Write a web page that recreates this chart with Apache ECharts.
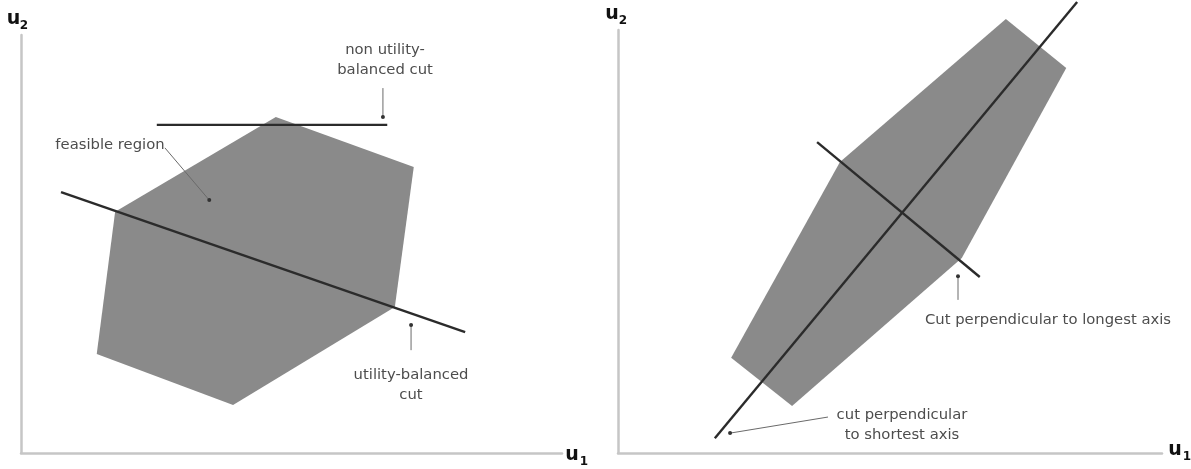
<!DOCTYPE html>
<html>
<head>
<meta charset="utf-8">
<script src="https://cdn.jsdelivr.net/npm/echarts@6/dist/echarts.min.js"></script>
<style>
html,body{margin:0;padding:0;background:#fff;}
#chart{width:1191px;height:469px;}
</style>
</head>
<body>
<div id="chart"></div>
<script>
// ---- Left panel data (u1, u2 in 0..10 axis units) ----
const leftPolygon = [[4.71,8.04],[7.26,6.84],[6.91,3.49],[3.92,1.15],[1.40,2.37],[1.74,5.77]];
const leftBalancedCut = [[0.74,6.24],[8.21,2.89]];
const leftNonBalancedCut = [[2.51,7.85],[6.77,7.85]];
const leftFeasiblePointer = [[2.66,7.30],[3.48,6.05]];
const leftNonBalancedPointer = [[6.69,8.73],[6.69,8.04]];
const leftBalancedPointer = [[7.21,2.46],[7.21,3.06]];

// ---- Right panel data ----
const rightPolygon = [[7.13,10.26],[8.24,9.10],[6.32,4.61],[3.20,1.11],[2.08,2.25],[4.08,6.88]];
const rightLongAxisCut = [[1.78,0.35],[8.44,10.66]];
const rightShortAxisCut = [[3.66,7.35],[6.65,4.16]];
const rightLongestPointer = [[6.25,3.62],[6.25,4.18]];
const rightShortestPointer = [[3.86,0.85],[2.06,0.47]];

// ---- Text ----
const axisName = 'u';
const leftTexts = ['non utility-\nbalanced cut', 'feasible region', 'utility-balanced\ncut'];
const rightTexts = ['Cut perpendicular to longest axis', 'cut perpendicular\nto shortest axis'];

const chart = echarts.init(document.getElementById('chart'), null, {renderer:'canvas'});

const AXIS_COLOR = '#c6c6c6';
const FILL = '#8a8a8a';
const CUT = '#2b2b2b';
const PTR = '#6a6a6a';
const TXT = '#4d4d4d';
const FONT = 'DejaVu Sans';

function axisCfg(idx){
  return {
    type:'value', min:0, max:10, gridIndex:idx,
    axisLine:{show:true, onZero:false, lineStyle:{color:AXIS_COLOR, width:2.5}},
    axisTick:{show:false}, axisLabel:{show:false}, splitLine:{show:false}
  };
}

function polygonSeries(idx, pts){
  return {
    type:'custom', xAxisIndex:idx, yAxisIndex:idx, clip:false, silent:true,
    data: pts,
    renderItem: function(params, api){
      if (params.dataIndex !== 0) return null;
      return {
        type:'polygon',
        shape:{points: pts.map(p => api.coord(p))},
        style:{fill:FILL, stroke:'none'}
      };
    },
    z:1
  };
}
function cutSeries(idx, pts){
  return {
    type:'line', xAxisIndex:idx, yAxisIndex:idx, clip:false, silent:true,
    data: pts, symbol:'none',
    lineStyle:{color:CUT, width:2.4}, z:3
  };
}
function pointerSeries(idx, pts){
  return {
    type:'line', xAxisIndex:idx, yAxisIndex:idx, clip:false, silent:true,
    showSymbol:true, showAllSymbol:true,
    data: [{value:pts[0], symbol:'none'}, {value:pts[1], symbol:'circle', symbolSize:4}],
    lineStyle:{color:PTR, width:1},
    itemStyle:{color:'#333'}, z:4
  };
}
function txt(x, y, text, align){
  return {type:'text', x:x, y:y, silent:true, z:10,
    style:{text:text, fill:TXT, font:'14.8px "' + FONT + '"', align:align||'center', verticalAlign:'middle', lineHeight:20}};
}
function lbl(x, y, t, size){
  return {type:'text', x:x, y:y, silent:true, z:10,
    style:{text:t, fill:'#111', font:'bold ' + size + 'px "DejaVu Sans"', align:'center', verticalAlign:'middle'}};
}

chart.setOption({
  animation:false,
  backgroundColor:'#fff',
  grid:[
    {left:21, top:35, width:541, height:418},
    {left:618, top:30, width:544, height:423}
  ],
  xAxis:[axisCfg(0), axisCfg(1)],
  yAxis:[axisCfg(0), axisCfg(1)],
  series:[
    polygonSeries(0, leftPolygon),
    cutSeries(0, leftBalancedCut),
    cutSeries(0, leftNonBalancedCut),
    pointerSeries(0, leftFeasiblePointer),
    pointerSeries(0, leftNonBalancedPointer),
    pointerSeries(0, leftBalancedPointer),
    polygonSeries(1, rightPolygon),
    cutSeries(1, rightLongAxisCut),
    cutSeries(1, rightShortAxisCut),
    pointerSeries(1, rightLongestPointer),
    pointerSeries(1, rightShortestPointer)
  ],
  graphic:[
    txt(385, 60, leftTexts[0]),
    txt(110, 145, leftTexts[1]),
    txt(411, 385, leftTexts[2]),
    txt(1048, 320, rightTexts[0]),
    txt(902, 425, rightTexts[1]),
    lbl(13.5, 19, axisName, 19), lbl(24, 26, '2', 12),
    lbl(572, 455, axisName, 19), lbl(584, 462, '1', 12),
    lbl(612, 14, axisName, 19), lbl(623, 21, '2', 12),
    lbl(1175, 450, axisName, 19), lbl(1187, 457, '1', 12)
  ]
});
</script>
</body>
</html>
